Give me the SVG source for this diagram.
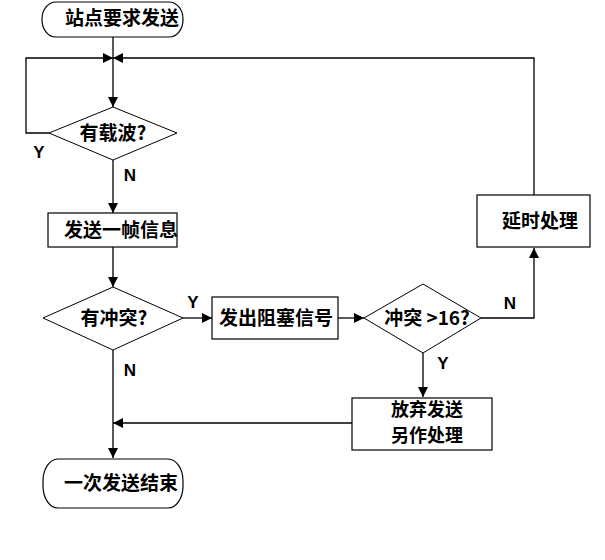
<svg xmlns="http://www.w3.org/2000/svg" width="605" height="560" viewBox="0 0 605 560">
<defs>
<style>
.s{fill:#fff;stroke:#000;stroke-width:1.2}
.d{fill:#fff;stroke:#000;stroke-width:1}
.l{fill:none;stroke:#000;stroke-width:1.3}
.t{font-family:"Noto Sans CJK SC","Noto Sans",sans-serif;font-size:19px;font-weight:bold;fill:#000;text-anchor:middle}
.t2{font-size:18px}
.y{font-family:"Liberation Sans",Arial,sans-serif;font-size:17px;font-weight:bold;fill:#000;text-anchor:middle}
</style>
<marker id="a" viewBox="0 0 10 10" refX="10" refY="5" markerWidth="10" markerHeight="10" markerUnits="userSpaceOnUse" orient="auto">
<path d="M0,0 L10,5 L0,10 Z" fill="#000"/>
</marker>
</defs>
<rect width="605" height="560" fill="#fff"/>
<g id="connectors">
<path class="l" d="M113,37 V107" marker-end="url(#a)"/>
<path class="l" d="M49,133 H26 V58 H113" marker-end="url(#a)"/>
<path class="l" d="M534,195 V58 H113" marker-end="url(#a)"/>
<path class="l" d="M113,160 V213" marker-end="url(#a)"/>
<path class="l" d="M113,247 V287" marker-end="url(#a)"/>
<path class="l" d="M183,318 H212" marker-end="url(#a)"/>
<path class="l" d="M338,318 H364" marker-end="url(#a)"/>
<path class="l" d="M481,318 H534 V248" marker-end="url(#a)"/>
<path class="l" d="M423,353 V397" marker-end="url(#a)"/>
<path class="l" d="M352,423 H113" marker-end="url(#a)"/>
<path class="l" d="M113,350 V458" marker-end="url(#a)"/>
</g>
<g id="labels">
<text class="y" x="39" y="158">Y</text>
<text class="y" x="130" y="181">N</text>
<text class="y" x="193" y="308">Y</text>
<text class="y" x="130" y="376">N</text>
<text class="y" x="510" y="309">N</text>
<text class="y" x="443" y="369">Y</text>
</g>
<g id="start">
<rect class="s" x="42" y="2" width="141" height="35" rx="14" ry="17"/>
<text class="t" x="122" y="25">站点要求发送</text>
</g>
<g id="carrier">
<polygon class="d" points="113,107 177,133 113,160 49,133"/>
<text class="t" x="113" y="140">有载波?</text>
</g>
<g id="send">
<rect class="s" x="48" y="213" width="129" height="34"/>
<text class="t" x="121" y="237">发送一帧信息</text>
</g>
<g id="collision">
<polygon class="d" points="113,287 183,318 113,350 43,318"/>
<text class="t" x="114" y="325">有冲突?</text>
</g>
<g id="jam">
<rect class="s" x="212" y="297" width="126" height="42"/>
<text class="t" x="276" y="325">发出阻塞信号</text>
</g>
<g id="count">
<polygon class="d" points="423,284 481,318 423,353 364,318"/>
<text class="t" x="427" y="325">冲突 &gt;16?</text>
</g>
<g id="delay">
<rect class="s" x="477" y="195" width="113" height="52"/>
<text class="t" x="540" y="228">延时处理</text>
</g>
<g id="abort">
<rect class="s" x="352" y="398" width="140" height="52"/>
<text class="t t2" x="427" y="416">放弃发送</text>
<text class="t t2" x="427" y="442">另作处理</text>
</g>
<g id="end">
<rect class="s" x="43" y="459" width="140" height="49" rx="15" ry="22"/>
<text class="t" x="121" y="490">一次发送结束</text>
</g>
</svg>
